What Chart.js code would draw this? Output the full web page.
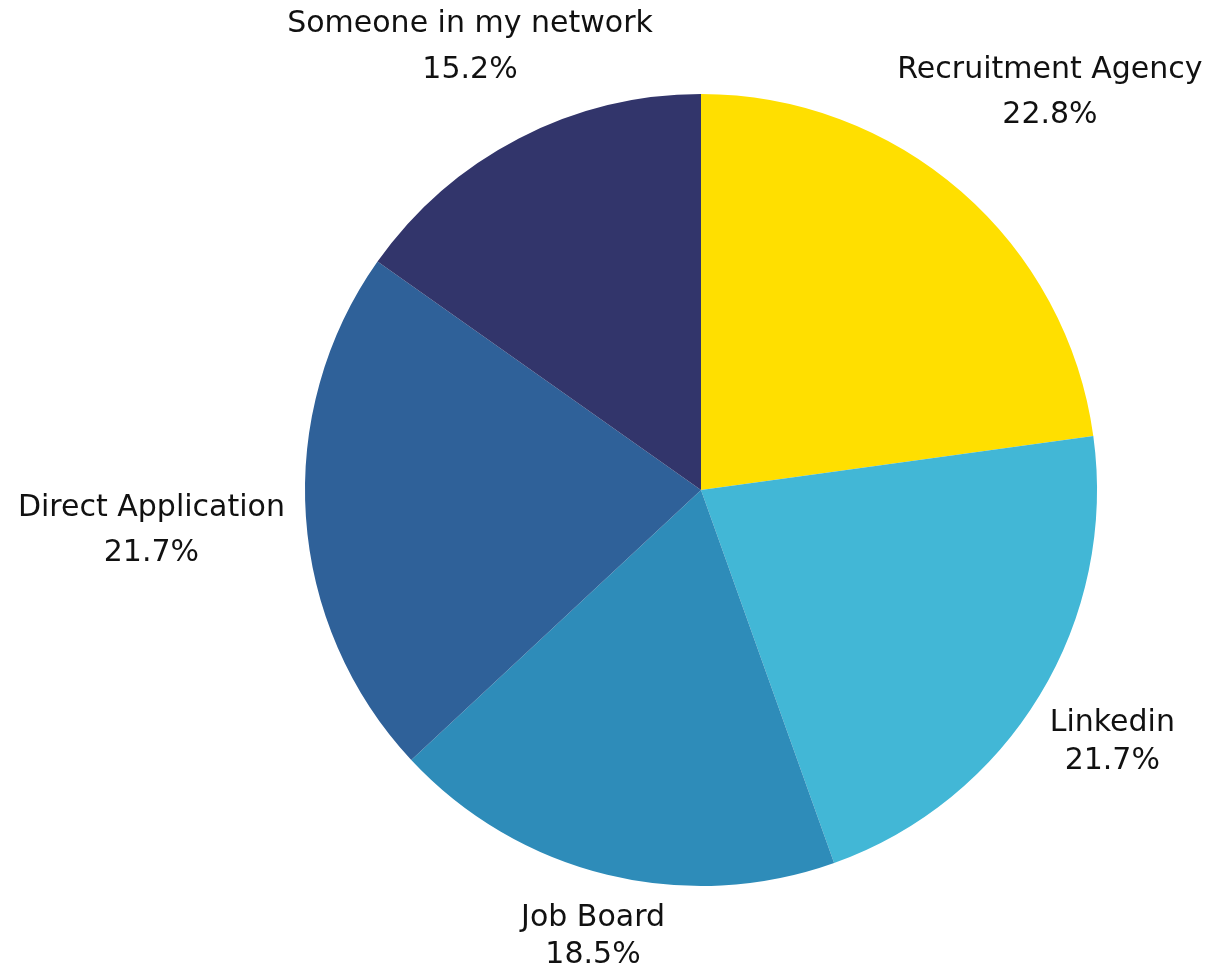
<!DOCTYPE html>
<html>
<head>
<meta charset="utf-8">
<script src="https://cdn.jsdelivr.net/npm/chart.js@4"></script>
<style>
  html, body { margin: 0; padding: 0; background: #ffffff; }
  #wrap { width: 1213px; height: 968px; position: relative; }
</style>
</head>
<body>
<div id="wrap"><canvas id="c"></canvas></div>
<script>
// Where hires came from
const categories = ['Recruitment Agency', 'Linkedin', 'Job Board', 'Direct Application', 'Someone in my network'];
const shares = [22.8, 21.7, 18.5, 21.7, 15.2];
const sliceColors = ['#FFDF00', '#42B7D6', '#2E8CB9', '#2F6199', '#32356B'];

// label placement: distance of each label block from the centre (in radii) and line spacing
const labelRadius = [1.341, 1.215, 1.152, 1.391, 1.268];
const labelLineGap = [45, 38, 37, 45, 46];

const outsideLabels = {
  id: 'outsideLabels',
  afterDatasetsDraw(chart) {
    const ctx = chart.ctx;
    const meta = chart.getDatasetMeta(0);
    ctx.save();
    ctx.fillStyle = '#111111';
    ctx.font = '30px "DejaVu Sans", sans-serif';
    ctx.textAlign = 'center';
    ctx.textBaseline = 'middle';
    meta.data.forEach((arc, i) => {
      const p = arc.getProps(['x', 'y', 'startAngle', 'endAngle', 'outerRadius'], true);
      const mid = (p.startAngle + p.endAngle) / 2;
      const d = p.outerRadius * labelRadius[i];
      const cx = p.x + Math.cos(mid) * d;
      const cy = p.y + Math.sin(mid) * d + 3;
      const g = labelLineGap[i] / 2;
      ctx.fillText(categories[i], cx, cy - g);
      ctx.fillText(shares[i].toFixed(1) + '%', cx, cy + g);
    });
    ctx.restore();
  }
};

new Chart(document.getElementById('c'), {
  type: 'pie',
  data: {
    labels: categories,
    datasets: [{
      data: shares,
      backgroundColor: sliceColors,
      borderWidth: 0
    }]
  },
  options: {
    responsive: true,
    maintainAspectRatio: false,
    animation: false,
    layout: { padding: { top: 94, bottom: 82, left: 305, right: 116 } },
    plugins: {
      legend: { display: false },
      tooltip: { enabled: false }
    }
  },
  plugins: [outsideLabels]
});
</script>
</body>
</html>
